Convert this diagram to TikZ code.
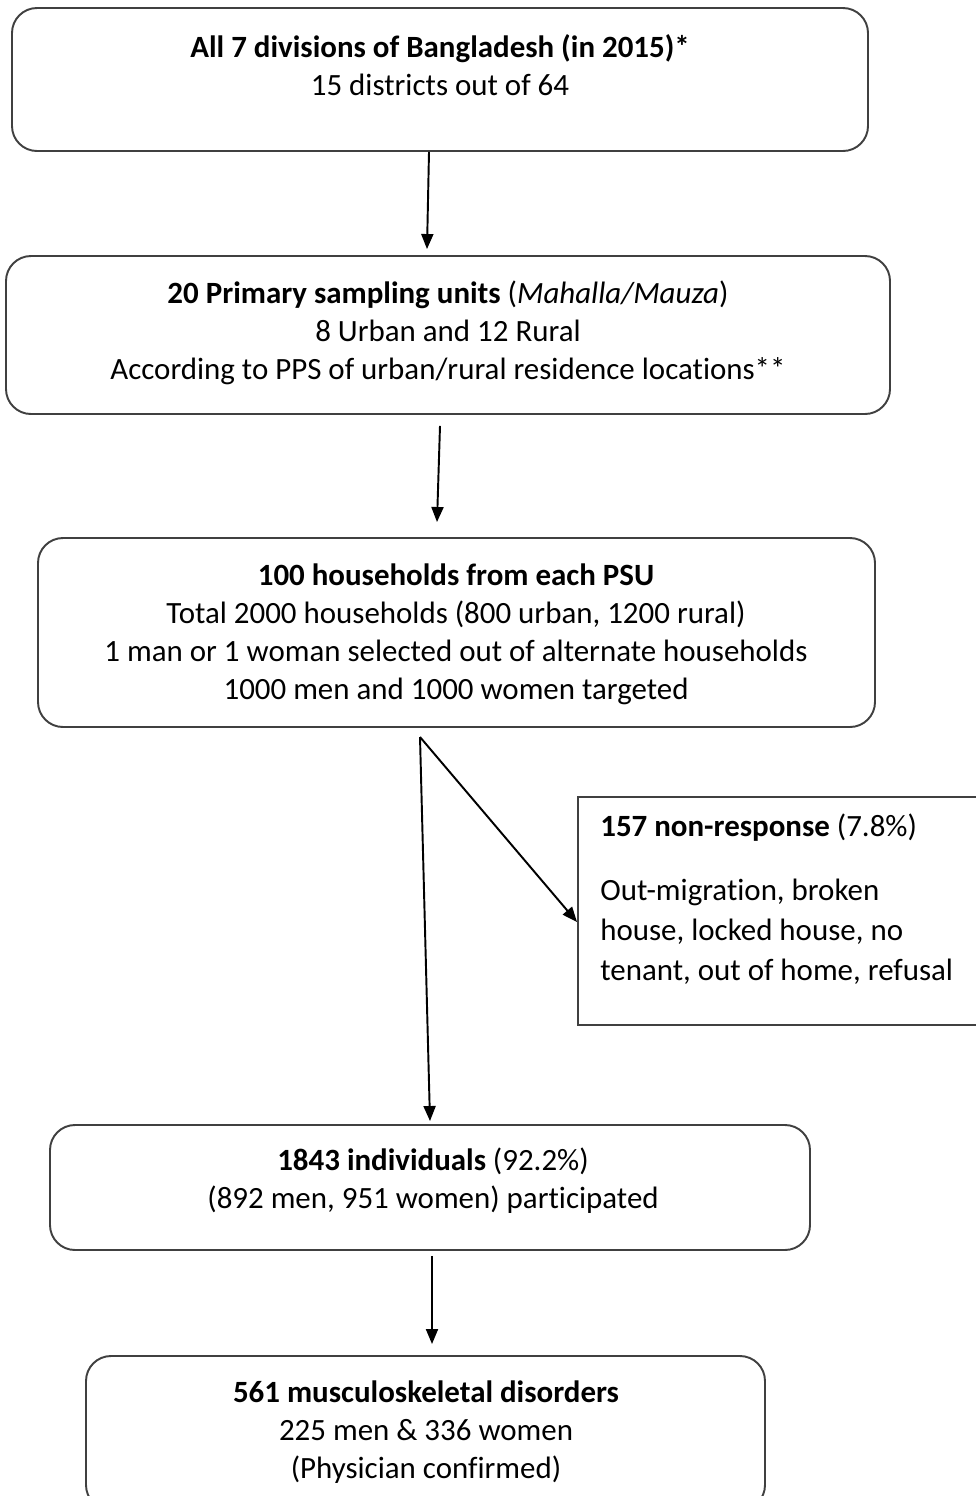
\documentclass[tikz,border=0pt]{standalone}
\usepackage{fontspec}
\setmainfont{Carlito}[Ligatures=NoCommon]
\usetikzlibrary{arrows.meta}
\begin{document}
\begin{tikzpicture}[
  box/.style={draw=black!75, line width=1.1pt, rounded corners=0.5cm, inner sep=0pt},
  sqbox/.style={draw=black!75, line width=1.1pt, inner sep=0pt},
  txt/.style={align=center, font=\fontsize{17.6}{21.6}\selectfont, inner sep=0pt},
  ltxt/.style={align=left, font=\fontsize{17.6}{22.8}\selectfont, inner sep=0pt, anchor=west},
  arr/.style={-{Triangle[length=0.3cm,width=0.24cm]}, line width=1.1pt, black}
]
\useasboundingbox (0,0) rectangle (19.5,-29.92);
% boxes
\node[box, minimum width=17.12cm, minimum height=2.86cm] (b1) at (8.8,-1.59) {};
\node[box, minimum width=17.68cm, minimum height=3.16cm] (b2) at (8.96,-6.70) {};
\node[box, minimum width=16.74cm, minimum height=3.78cm] (b3) at (9.13,-12.65) {};
\node[sqbox, minimum width=8.2cm, minimum height=4.56cm] (b4) at (15.66,-18.22) {};
\node[box, minimum width=15.2cm, minimum height=2.5cm] (b5) at (8.6,-23.75) {};
\node[box, minimum width=13.58cm, minimum height=3.08cm] (b6) at (8.51,-28.66) {};
% texts
\node[txt] (t1) at (8.8,-1.30) {\textbf{All 7 divisions of Bangladesh (in 2015)*}\\15 districts out of 64};
\node[txt] (t2) at (8.96,-6.66) {\textbf{20 Primary sampling units} (\textit{Mahalla/Mauza})\\8 Urban and 12 Rural\\According to PPS of urban/rural residence locations**};
\node[txt] (t3) at (9.12,-12.69) {\textbf{100 households from each PSU}\\Total 2000 households (800 urban, 1200 rural)\\1 man or 1 woman selected out of alternate households\\1000 men and 1000 women targeted};
\node[ltxt] (t4a) at (12.0,-16.56) {\textbf{157 non-response} (7.8\%)};
\node[ltxt] (t4b) at (12.0,-18.64) {Out-migration, broken\\house, locked house, no\\tenant, out of home, refusal};
\node[txt] (t5) at (8.66,-23.62) {\textbf{1843 individuals} (92.2\%)\\(892 men, 951 women) participated};
\node[txt] (t6) at (8.52,-28.64) {\textbf{561 musculoskeletal disorders}\\225 men \& 336 women\\(Physician confirmed)};
% connectors
\coordinate (split) at (8.4,-14.74);
\draw[arr] (b1.south -| 8.58,0) -- ([yshift=0.12cm]b2.north -| 8.54,0);
\draw[arr] ([yshift=-0.22cm]b2.south -| 8.8,0) -- ([yshift=0.30cm]b3.north -| 8.74,0);
\draw[arr] (split) -- ([yshift=0.06cm]b5.north -| 8.6,0);
\draw[arr] (split) -- (b4.west |- 0,-18.44);
\draw[arr] ([yshift=-0.1cm]b5.south -| 8.64,0) -- ([yshift=0.22cm]b6.north -| 8.64,0);
\end{tikzpicture}
\end{document}
